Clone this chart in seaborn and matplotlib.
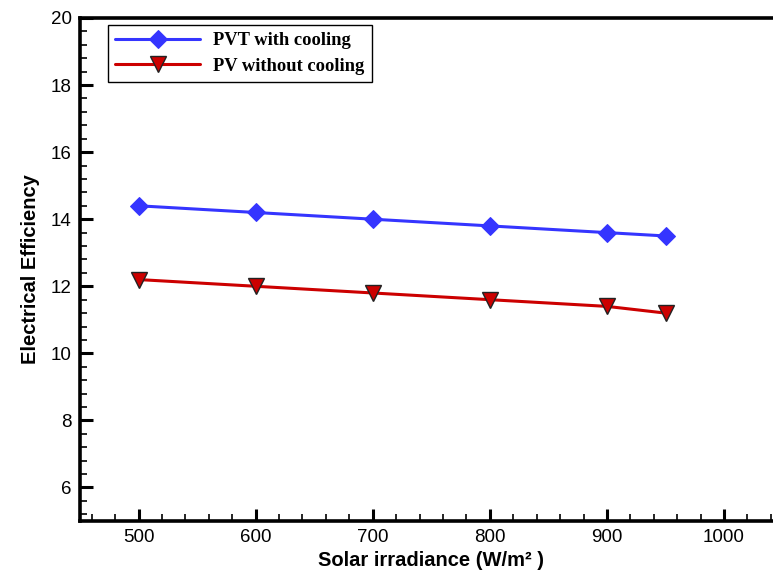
import matplotlib
matplotlib.use("Agg")
import matplotlib.pyplot as plt
from matplotlib.ticker import MultipleLocator
import seaborn as sns
import pandas as pd

# Solar irradiance levels (W/m2)
irradiance = [500, 600, 700, 800, 900, 950]
# Electrical efficiency (%)
eff_pvt_cooling = [14.4, 14.2, 14.0, 13.8, 13.6, 13.5]
eff_pv_no_cooling = [12.2, 12.0, 11.8, 11.6, 11.4, 11.2]
series_names = ["PVT with cooling", "PV without cooling"]

sns.set_theme(style="white")
plt.rcParams["font.family"] = ["Liberation Sans", "DejaVu Sans"]
plt.rcParams["text.color"] = "black"
plt.rcParams["axes.labelcolor"] = "black"
plt.rcParams["xtick.color"] = "black"
plt.rcParams["ytick.color"] = "black"

df_a = pd.DataFrame({"x": irradiance, "y": eff_pvt_cooling})
df_b = pd.DataFrame({"x": irradiance, "y": eff_pv_no_cooling})

fig = plt.figure(figsize=(7.73, 5.72), dpi=100)
ax = fig.add_axes([80 / 773, 51 / 572, 702.6 / 773, 503 / 572])

sns.lineplot(data=df_a, x="x", y="y", ax=ax, color="#3535ff", lw=2.2,
             marker="D", markersize=9, markeredgecolor="#3535ff",
             label=series_names[0])
sns.lineplot(data=df_b, x="x", y="y", ax=ax, color="#cc0000", lw=2.2,
             marker="v", markersize=11, markeredgecolor="#222222",
             markeredgewidth=1.0, label=series_names[1])

ax.set_xlim(450, 1050)
ax.set_ylim(5, 20)
ax.xaxis.set_major_locator(MultipleLocator(100))
ax.xaxis.set_minor_locator(MultipleLocator(20))
ax.yaxis.set_major_locator(MultipleLocator(2))
ax.yaxis.set_minor_locator(MultipleLocator(0.4))
ax.tick_params(which="major", direction="in", length=9, width=2.2,
               labelsize=13.5, color="black", labelcolor="black", pad=6,
               bottom=True, left=True, top=False, right=False)
ax.tick_params(which="minor", direction="in", length=5, width=1.2,
               color="black", bottom=True, left=True, top=False, right=False)
for sp in ax.spines.values():
    sp.set_linewidth(2.6)
    sp.set_color("black")

ax.set_xlabel("Solar irradiance (W/m\u00b2 )", fontsize=14.5,
              fontweight="bold", va="baseline", color="black")
ax.xaxis.set_label_coords(0.5, -(566 - 521) / 503)
ax.set_ylabel("Electrical Efficiency", fontsize=14.5, fontweight="bold",
              labelpad=8, color="black")

leg = ax.legend(loc="upper left", bbox_to_anchor=(0.04, 0.986),
                borderaxespad=0, frameon=True, fancybox=False,
                framealpha=1, edgecolor="black", handlelength=4.6,
                prop={"family": "Liberation Serif", "weight": "bold",
                      "size": 13.3},
                borderpad=0.4, labelspacing=0.45, handletextpad=0.7)
leg.get_frame().set_linewidth(1.0)
for t in leg.get_texts():
    t.set_color("black")

fig.savefig("out.png", dpi=100)
